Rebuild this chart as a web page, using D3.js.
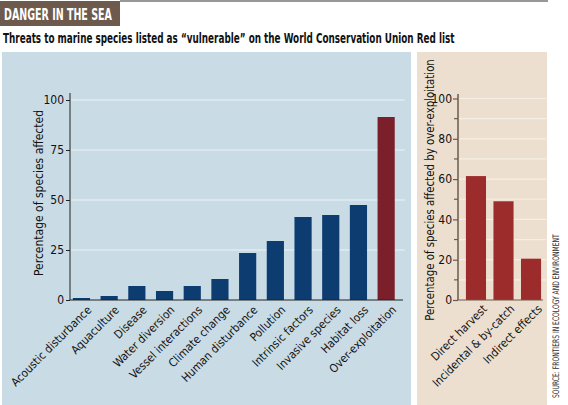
<!DOCTYPE html>
<html>
<head>
    <title></title>
    <meta charset="utf-8" />
    <script src="https://cdn.jsdelivr.net/npm/d3@7"></script>
    <style>
        body { margin: 0; background: #fff; }
        text { font-family: "DejaVu Sans Condensed", "Roboto", sans-serif; }
    </style>
</head>
<body>
    <script>
        // threats to marine species (left panel)
        var threats = ['Acoustic disturbance', 'Aquaculture', 'Disease', 'Water diversion', 'Vessel interactions',
            'Climate change', 'Human disturbance', 'Pollution', 'Intrinsic factors', 'Invasive species',
            'Habitat loss', 'Over-exploitation'];
        var threatValues = [1, 2, 7, 4.5, 7, 10.5, 23.5, 29.5, 41.5, 42.5, 47.5, 91.5];
        var leftTicks = [0, 25, 50, 75, 100];

        // breakdown of over-exploitation (right panel)
        var overCats = ['Direct harvest', 'Incidental & by-catch', 'Indirect effects'];
        var overValues = [61.5, 49, 20.5];
        var rightTicks = [0, 20, 40, 60, 80, 100];
        var rightMinor = [10, 30, 50, 70, 90];

        var svg = d3.select('body').append('svg').attr('width', 568).attr('height', 405);

        // squeeze a text horizontally so it takes the given width (keeps its height)
        function squeeze(sel, x, y, rot, width) {
            var len = sel.node().getComputedTextLength();
            var sx = Math.min(1, width / len);
            sel.attr('transform', 'translate(' + x + ',' + y + ') rotate(' + rot + ') scale(' + sx + ',1)');
            return sel;
        }

        // header
        svg.append('line').attr('x1', 120).attr('x2', 548).attr('y1', 1).attr('y2', 1)
            .attr('stroke', '#333').attr('stroke-width', 1.2);
        svg.append('rect').attr('x', 0).attr('y', 1).attr('width', 120).attr('height', 25).attr('fill', '#6e5a4d');
        squeeze(svg.append('text').attr('fill', '#fff').attr('font-weight', 'bold').attr('font-size', 16)
            .text('DANGER IN THE SEA'), 4, 20, 0, 108);
        squeeze(svg.append('text').attr('fill', '#111').attr('font-weight', 'bold').attr('font-size', 13.5)
            .text('Threats to marine species listed as \u201cvulnerable\u201d on the World Conservation Union Red list'), 3, 43, 0, 452);

        // panels
        svg.append('rect').attr('x', 2).attr('y', 52).attr('width', 409).attr('height', 353).attr('fill', '#c9dbe5');
        svg.append('rect').attr('x', 417).attr('y', 52).attr('width', 130).attr('height', 353).attr('fill', '#ecdfcf');

        // ---- left chart
        var x1 = d3.scaleBand().domain(threats).range([67.6, 400]).paddingInner(0.38).paddingOuter(0.19);
        var y1 = d3.scaleLinear().domain([0, 100]).range([300, 100]);

        var g1 = svg.append('g');
        g1.selectAll('.grid1').data(leftTicks.slice(1)).enter().append('line')
            .attr('x1', 71).attr('x2', 405)
            .attr('y1', function (d) { return y1(d); }).attr('y2', function (d) { return y1(d); })
            .attr('stroke', '#eef4f8').attr('stroke-width', 1.2);

        g1.selectAll('.bar1').data(threatValues).enter().append('rect')
            .attr('x', function (d, i) { return x1(threats[i]); })
            .attr('width', x1.bandwidth())
            .attr('y', function (d) { return y1(d); })
            .attr('height', function (d) { return y1(0) - y1(d); })
            .attr('fill', function (d, i) { return i === threats.length - 1 ? '#7b1f2b' : '#0d3c70'; });

        var ax1 = g1.append('g').attr('transform', 'translate(70,0)')
            .call(d3.axisLeft(y1).tickValues(leftTicks).tickSize(4).tickPadding(2));
        ax1.select('.domain').attr('d', 'M0,93V300').attr('stroke', '#222');
        ax1.selectAll('.tick line').attr('stroke', '#222');
        ax1.selectAll('.tick text').attr('font-size', 12).attr('fill', '#111')
            .style('font-family', '"DejaVu Sans Condensed", sans-serif');
        g1.append('line').attr('x1', 70).attr('x2', 403).attr('y1', 300).attr('y2', 300).attr('stroke', '#222');

        g1.selectAll('.lab1').data(threats).enter().append('text')
            .attr('transform', function (d) { return 'translate(' + (x1(d) + x1.bandwidth() / 2 + 5) + ',305) rotate(-45)'; })
            .attr('text-anchor', 'end').attr('dy', '0.7em').attr('font-size', 11.5).attr('fill', '#111')
            .text(function (d) { return d; });

        svg.append('text').attr('transform', 'translate(43,193) rotate(-90)').attr('text-anchor', 'middle')
            .attr('font-size', 12).attr('fill', '#111').text('Percentage of species affected');

        // ---- right chart
        var x2 = d3.scaleBand().domain(overCats).range([462.2, 544.8]).paddingInner(0.27).paddingOuter(0.135);
        var y2 = d3.scaleLinear().domain([0, 100]).range([300, 98.5]);

        var g2 = svg.append('g');
        g2.selectAll('.grid2').data(rightTicks.slice(1).concat(rightMinor)).enter().append('line')
            .attr('x1', 459).attr('x2', 546)
            .attr('y1', function (d) { return y2(d); }).attr('y2', function (d) { return y2(d); })
            .attr('stroke', '#f7efe4').attr('stroke-width', 1.2);

        g2.selectAll('.bar2').data(overValues).enter().append('rect')
            .attr('x', function (d, i) { return x2(overCats[i]); })
            .attr('width', x2.bandwidth())
            .attr('y', function (d) { return y2(d); })
            .attr('height', function (d) { return y2(0) - y2(d); })
            .attr('fill', '#9c2b2c');

        var ax2 = g2.append('g').attr('transform', 'translate(458,0)')
            .call(d3.axisLeft(y2).tickValues(rightTicks).tickSize(5).tickPadding(1));
        ax2.select('.domain').attr('d', 'M0,94V300').attr('stroke', '#6b5b4f').attr('stroke-width', 1.5);
        ax2.selectAll('.tick line').attr('stroke', '#6b5b4f').attr('stroke-width', 1.2);
        ax2.selectAll('.tick text').attr('font-size', 12).attr('fill', '#111')
            .style('font-family', '"DejaVu Sans Condensed", sans-serif');
        g2.selectAll('.minor').data(rightMinor).enter().append('line')
            .attr('x1', 454).attr('x2', 458)
            .attr('y1', function (d) { return y2(d); }).attr('y2', function (d) { return y2(d); })
            .attr('stroke', '#6b5b4f').attr('stroke-width', 1.2);
        g2.append('line').attr('x1', 458).attr('x2', 543).attr('y1', 300).attr('y2', 300).attr('stroke', '#6b5b4f').attr('stroke-width', 1.2);

        g2.selectAll('.lab2').data(overCats).enter().append('text')
            .attr('transform', function (d) { return 'translate(' + (x2(d) + x2.bandwidth() / 2 + 6) + ',304) rotate(-45)'; })
            .attr('text-anchor', 'end').attr('dy', '0.7em').attr('font-size', 11.5).attr('fill', '#111')
            .text(function (d) { return d; });

        squeeze(svg.append('text').attr('text-anchor', 'middle').attr('font-size', 12.5).attr('fill', '#111')
            .text('Percentage of species affected by over-exploitation'), 434, 190, -90, 262);

        // source
        squeeze(svg.append('text').attr('font-size', 9).attr('fill', '#333')
            .text('SOURCE: FRONTIERS IN ECOLOGY AND ENVIRONMENT'), 559, 398, -90, 164);
    </script>
</body>
</html>
